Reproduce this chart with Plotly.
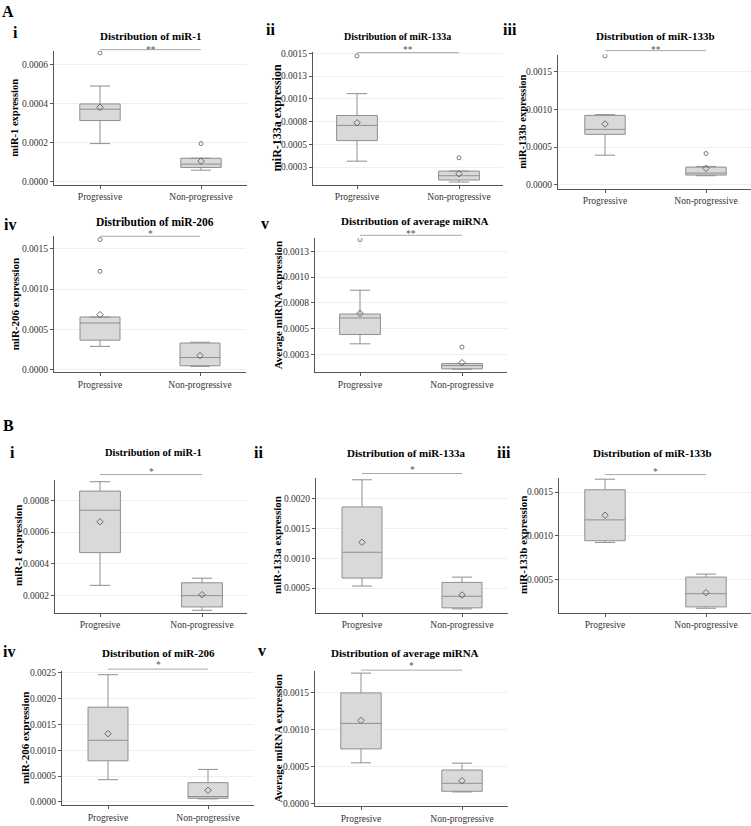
import plotly.graph_objects as go

W, H = 751, 826
FONT = "Liberation Serif"

# ---------------- data ----------------
panel_ids = ["A-i", "A-ii", "A-iii", "A-iv", "A-v", "B-i", "B-ii", "B-iii", "B-iv", "B-v"]
panel_titles = ["Distribution of miR-1", "Distribution of miR-133a", "Distribution of miR-133b",
                "Distribution of miR-206", "Distribution of average miRNA"] * 2
y_titles = ["miR-1 expression", "miR-133a expression", "miR-133b expression",
            "miR-206 expression", "Average miRNA expression"] * 2
numerals = ["i", "ii", "iii", "iv", "v"] * 2
significance = ["**", "**", "**", "*", "**", "*", "*", "*", "*", "*"]
categories_A = ["Progressive", "Non-progressive"]
categories_B = ["Progresive", "Non-progressive"]

prog_lower = [0.000195, 0.000315, 0.000394, 0.000288, 0.000355, 0.000265, 0.000533, 0.000924, 0.000429, 0.000555]
prog_q1 = [0.000313, 0.000541, 0.000669, 0.000366, 0.000445, 0.000471, 0.000667, 0.000943, 0.000795, 0.000743]
prog_median = [0.000371, 0.000708, 0.000735, 0.000579, 0.000605, 0.000738, 0.001100, 0.001182, 0.001192, 0.001088]
prog_q3 = [0.000398, 0.000817, 0.000920, 0.000653, 0.000643, 0.000858, 0.001861, 0.001527, 0.001833, 0.001500]
prog_upper = [0.000490, 0.001057, 0.000930, 0.000653, 0.000873, 0.000917, 0.002317, 0.001648, 0.002462, 0.001768]
prog_mean = [0.000381, 0.000737, 0.000805, 0.000682, 0.000649, 0.000665, 0.001267, 0.001235, 0.001320, 0.001128]
prog_outliers = [[0.000659], [0.001471], [0.001706], [0.001220, 0.001615], [0.001362], [], [], [], [], []]

non_lower = [0.000059, 0.000086, 0.000122, 0.000040, 0.000110, 0.000108, 0.000150, 0.000170, 0.000058, 0.000161]
non_q1 = [0.000073, 0.000108, 0.000131, 0.000048, 0.000113, 0.000129, 0.000167, 0.000186, 0.000070, 0.000170]
non_median = [0.000090, 0.000155, 0.000157, 0.000150, 0.000145, 0.000200, 0.000361, 0.000337, 0.000103, 0.000278]
non_q3 = [0.000120, 0.000206, 0.000236, 0.000330, 0.000164, 0.000281, 0.000594, 0.000527, 0.000372, 0.000457]
non_upper = [0.000120, 0.000206, 0.000245, 0.000340, 0.000165, 0.000310, 0.000683, 0.000561, 0.000628, 0.000550]
non_mean = [0.000105, 0.000177, 0.000219, 0.000175, 0.000173, 0.000206, 0.000383, 0.000348, 0.000224, 0.000313]
non_outliers = [[0.000195], [0.000352], [0.000416], [], [0.000323], [], [], [], [], []]

ytick_vals = [
    [0.0, 0.0002, 0.0004, 0.0006],
    [0.00025, 0.0005, 0.00075, 0.001, 0.00125, 0.0015],
    [0.0, 0.0005, 0.001, 0.0015],
    [0.0, 0.0005, 0.001, 0.0015],
    [0.00025, 0.0005, 0.00075, 0.001, 0.00125],
    [0.0002, 0.0004, 0.0006, 0.0008],
    [0.0005, 0.001, 0.0015, 0.002],
    [0.0005, 0.001, 0.0015],
    [0.0, 0.0005, 0.001, 0.0015, 0.002, 0.0025],
    [0.0, 0.0005, 0.001, 0.0015],
]
ytick_text = [
    ["0.0000", "0.0002", "0.0004", "0.0006"],
    ["0.0003", "0.0005", "0.0008", "0.0010", "0.0013", "0.0015"],
    ["0.0000", "0.0005", "0.0010", "0.0015"],
    ["0.0000", "0.0005", "0.0010", "0.0015"],
    ["0.0003", "0.0005", "0.0008", "0.0010", "0.0013"],
    ["0.0002", "0.0004", "0.0006", "0.0008"],
    ["0.0005", "0.0010", "0.0015", "0.0020"],
    ["0.0005", "0.0010", "0.0015"],
    ["0.0000", "0.0005", "0.0010", "0.0015", "0.0020", "0.0025"],
    ["0.0000", "0.0005", "0.0010", "0.0015"],
]

# ---------------- layout geometry (pixels) ----------------
# left, cat0, cat1, top, bottom
geom = [
    (54, 100, 201, 48, 183),
    (313, 357, 459, 49, 183),
    (558, 605, 706, 52, 187),
    (54, 100, 200, 235, 372),
    (315, 360, 462, 237, 372),
    (55, 100, 202, 480, 614),
    (316, 362, 462, 478, 614),
    (559, 605, 706, 478, 614),
    (62, 108, 208, 673, 808),
    (315, 361, 462, 673, 809),
]
yranges = [
    [-0.0000153, 0.000671], [0.000057, 0.001518], [-0.0000486, 0.001723],
    [-0.0000333, 0.001655], [0.00008, 0.001375], [0.0000938, 0.000931],
    [0.0000883, 0.002355], [0.000121, 0.001667], [-0.0000635, 0.002532],
    [-0.0000309, 0.001795],
]
title_pos = [(150, 33), (397, 34), (655, 33), (155, 221), (415, 220),
             (153, 453), (406, 453), (652, 453), (158, 655), (405, 655)]
title_size = [11, 10, 11, 11.5, 11, 10.5, 11, 11, 11, 11]
ytitle_x = [15, 277, 523, 15, 278, 18, 277, 523, 25, 278]
ytitle_size = [10.5, 12, 10.5, 11, 11, 11, 11, 11, 11, 11]
numeral_pos = [(15, 30), (270, 27), (510, 27), (10, 223), (265, 222),
               (12, 453), (258, 453), (504, 453), (9, 653), (262, 652)]
sig_y = [47, 50, 48, 235, 234, 475, 474, 475, 671, 672]
star_y = [47, 47, 47, 233, 233, 472, 470, 472, 667, 668]

BOX_FILL = "#d9d9d9"
BOX_LINE = "#8f8f8f"
AXIS_COL = "#555555"
TICK_COL = "#333333"

fig = go.Figure()
annotations = []
shapes = []

def py(v):
    return 1 - v / H

for i in range(10):
    sfx = "" if i == 0 else str(i + 1)
    xa, ya = "x" + sfx, "y" + sfx
    cats = categories_A if i < 5 else categories_B
    left, c0, c1, top, bottom = geom[i]
    sp = c1 - c0
    gap = c0 - left
    right = min(c1 + gap, W)
    xr = [-gap / sp, (right - c0) / sp]

    fig.add_trace(go.Box(
        x=cats, q1=[prog_q1[i], non_q1[i]], median=[prog_median[i], non_median[i]],
        q3=[prog_q3[i], non_q3[i]], lowerfence=[prog_lower[i], non_lower[i]],
        upperfence=[prog_upper[i], non_upper[i]],
        width=0.4, whiskerwidth=0.5, fillcolor=BOX_FILL,
        line=dict(color=BOX_LINE, width=1), boxpoints=False,
        showlegend=False, hoverinfo="skip", xaxis=xa, yaxis=ya))

    ox = [cats[0]] * len(prog_outliers[i]) + [cats[1]] * len(non_outliers[i])
    oy = prog_outliers[i] + non_outliers[i]
    if oy:
        fig.add_trace(go.Scatter(
            x=ox, y=oy, mode="markers",
            marker=dict(symbol="circle-open", size=4, color="#7a7a7a", line=dict(width=1)),
            showlegend=False, hoverinfo="skip", xaxis=xa, yaxis=ya))

    fig.add_trace(go.Scatter(
        x=cats, y=[prog_mean[i], non_mean[i]], mode="markers",
        marker=dict(symbol="diamond-open", size=5, color="#6a6a6a", line=dict(width=1)),
        showlegend=False, hoverinfo="skip", xaxis=xa, yaxis=ya))

    fig.layout["xaxis" + sfx] = dict(
        domain=[left / W, right / W], anchor=ya, type="category",
        categoryorder="array", categoryarray=cats, range=xr,
        showline=True, linecolor=AXIS_COL, linewidth=1, mirror=False,
        ticks="outside", ticklen=3, tickcolor=AXIS_COL,
        tickfont=dict(family=FONT, size=9.5, color=TICK_COL),
        showgrid=False, zeroline=False, fixedrange=True)
    fig.layout["yaxis" + sfx] = dict(
        domain=[py(bottom), py(top)], anchor=xa, range=yranges[i],
        tickvals=ytick_vals[i], ticktext=ytick_text[i],
        showline=True, linecolor=AXIS_COL, linewidth=1,
        ticks="outside", ticklen=3, tickcolor=AXIS_COL,
        tickfont=dict(family=FONT, size=9.5, color=TICK_COL),
        showgrid=True, gridcolor="#efefef", gridwidth=1, zeroline=False, fixedrange=True)

    tx, ty = title_pos[i]
    annotations.append(dict(text="<b>" + panel_titles[i] + "</b>", x=tx / W, y=py(ty),
                            xref="paper", yref="paper", showarrow=False,
                            xanchor="center", yanchor="middle",
                            font=dict(family=FONT, size=title_size[i], color="black")))
    annotations.append(dict(text="<b>" + y_titles[i] + "</b>", x=ytitle_x[i] / W,
                            y=py((top + bottom) / 2), xref="paper", yref="paper",
                            showarrow=False, textangle=-90, xanchor="center", yanchor="middle",
                            font=dict(family=FONT, size=ytitle_size[i], color="black")))
    nx, ny = numeral_pos[i]
    annotations.append(dict(text="<b>" + numerals[i] + "</b>", x=nx / W, y=py(ny),
                            xref="paper", yref="paper", showarrow=False,
                            xanchor="center", yanchor="middle",
                            font=dict(family=FONT, size=16, color="black")))
    shapes.append(dict(type="line", xref=xa, yref="paper", x0=0, x1=1,
                       y0=py(sig_y[i]), y1=py(sig_y[i]),
                       line=dict(color="#a8a8a8", width=1)))
    annotations.append(dict(text=significance[i], x=0.5, y=py(star_y[i]),
                            xref=xa, yref="paper", showarrow=False,
                            xanchor="center", yanchor="middle",
                            font=dict(family=FONT, size=9.5, color="#555555")))

for lab, (lx, ly) in zip(["A", "B"], [(8, 9), (8, 426)]):
    annotations.append(dict(text="<b>" + lab + "</b>", x=lx / W, y=py(ly),
                            xref="paper", yref="paper", showarrow=False,
                            xanchor="center", yanchor="middle",
                            font=dict(family=FONT, size=16, color="black")))

fig.update_layout(
    width=W, height=H, margin=dict(l=0, r=0, t=0, b=0),
    paper_bgcolor="white", plot_bgcolor="white",
    annotations=annotations, shapes=shapes, showlegend=False,
    font=dict(family=FONT),
)

fig.write_html("out.html", config={"displayModeBar": False},
               post_script="document.body.style.margin='0';document.body.style.padding='0';")
